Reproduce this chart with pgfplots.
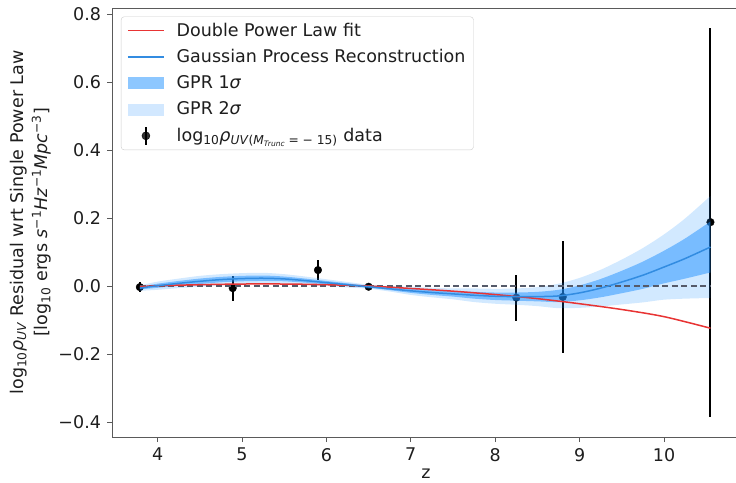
\documentclass[border=0pt]{standalone}
\usepackage{pgfplots}
\pgfplotsset{compat=1.18}
\usepackage{pgfplotstable}
\usepgfplotslibrary{fillbetween}
\usepackage{fontspec}
\setmainfont{DejaVu Sans}
\definecolor{dplred}{RGB}{232,52,52}
\definecolor{gprblue}{RGB}{50,140,225}
\definecolor{bandblue}{RGB}{30,144,255}
\definecolor{zeroline}{RGB}{85,90,105}
\definecolor{spine}{RGB}{90,90,90}
\definecolor{txt}{RGB}{30,30,30}

\pgfplotstableread{
z      m       l1      u1      l2      u2
3.79  -0.006  -0.010  -0.002  -0.014   0.002
4.00   0.001  -0.005   0.007  -0.011   0.013
4.25   0.008   0.001   0.015  -0.006   0.022
4.50   0.014   0.006   0.022  -0.002   0.030
4.75   0.019   0.011   0.027   0.003   0.035
5.00   0.022   0.014   0.030   0.006   0.038
5.25   0.023   0.015   0.031   0.007   0.039
5.50   0.021   0.014   0.028   0.007   0.035
5.75   0.016   0.010   0.022   0.004   0.028
6.00   0.010   0.005   0.015   0.000   0.020
6.25   0.004   0.000   0.008  -0.004   0.012
6.50  -0.002  -0.005   0.001  -0.008   0.004
6.75  -0.008  -0.012  -0.004  -0.016   0.000
7.00  -0.014  -0.020  -0.008  -0.026  -0.002
7.25  -0.019  -0.026  -0.012  -0.033  -0.005
7.50  -0.023  -0.031  -0.015  -0.039  -0.007
7.75  -0.027  -0.037  -0.017  -0.047  -0.007
8.00  -0.030  -0.041  -0.019  -0.052  -0.008
8.25  -0.031  -0.043  -0.019  -0.055  -0.007
8.50  -0.031  -0.045  -0.017  -0.059  -0.003
8.75  -0.029  -0.047  -0.011  -0.065   0.007
9.00  -0.020  -0.042   0.002  -0.064   0.024
9.25  -0.006  -0.033   0.021  -0.060   0.048
9.50   0.012  -0.021   0.045  -0.054   0.078
9.75   0.032  -0.008   0.072  -0.048   0.112
10.00  0.056   0.008   0.104  -0.040   0.152
10.25  0.081   0.022   0.140  -0.037   0.199
10.55  0.115   0.040   0.190  -0.035   0.265
}\gpr

\pgfplotstableread{
z      y       e
3.79  -0.003   0.015
4.89  -0.006   0.037
5.90   0.047   0.030
6.50  -0.002   0.006
8.25  -0.034   0.068
8.80  -0.032   0.166
10.55  0.188   0.572
}\obs

\pgfplotsset{
  redleg/.style={legend image code/.code={\draw[dplred, line width=1.5pt] (0pt,0pt) -- (36pt,0pt);}},
  blueleg/.style={legend image code/.code={\draw[gprblue, line width=1.5pt] (0pt,0pt) -- (36pt,0pt);}},
  onesigleg/.style={legend image code/.code={\path[draw=none, fill=bandblue, fill opacity=0.5, sharp corners] (0pt,-6pt) rectangle (36pt,6pt);}},
  twosigleg/.style={legend image code/.code={\path[draw=none, fill=bandblue, fill opacity=0.2, sharp corners] (0pt,-6pt) rectangle (36pt,6pt);}},
  errleg/.style={legend image code/.code={\draw[black, line width=2pt, sharp corners] (18pt,-9pt) -- (18pt,9pt); \fill[black] (18pt,0pt) circle (4pt);}},
}

\begin{document}
\fontsize{17.5}{21}\selectfont
\color{txt}
\begin{tikzpicture}
\begin{axis}[
  set layers=standard, clip mode=individual,
  at={(112pt,45pt)}, anchor=south west,
  scale only axis, width=628pt, height=429pt,
  xmin=3.46, xmax=10.9, ymin=-0.444, ymax=0.818,
  xtick={4,5,6,7,8,9,10}, xticklabels={4,5,6,7,8,9,10},
  ytick={-0.4,-0.2,0,0.2,0.4,0.6,0.8},
  yticklabels={−0.4,−0.2,0.0,0.2,0.4,0.6,0.8},
  xtick pos=bottom, ytick pos=left,
  tick align=outside, major tick length=5pt,
  tick style={spine, line width=0.8pt},
  axis line style={spine, line width=0.8pt},
  xlabel={z},
  xlabel style={at={(axis description cs:0.5,-0.085)}, anchor=center},
  ylabel={log\textsubscript{10}\textit{ρ}\textsubscript{\textit{UV}} Residual wrt Single Power Law\\[3pt]{[}log\textsubscript{10} ergs \textit{s}\textsuperscript{−1}\textit{Hz}\textsuperscript{−1}\textit{Mpc}\textsuperscript{−3}]},
  ylabel style={at={(axis description cs:-0.13,0.5)}, anchor=center, align=center},
  legend style={at={(0.0143,0.98)}, anchor=north west, draw=black!20, rounded corners=3pt,
    fill=white, fill opacity=0.8, text opacity=1, inner xsep=6pt, inner ysep=4pt,
    row sep=6.5pt, cells={anchor=west},
    /tikz/every odd column/.append style={column sep=10pt}},
  legend cell align=left,
]
% data with error bars (under the bands)
\addplot[forget plot, on layer=axis background, mark layer=axis background,
  only marks, mark=*, mark size=3.8pt, black,
  error bars/.cd, y dir=both, y explicit, error mark=none,
  error bar style={line width=2pt, black}]
  table[x=z, y=y, y error=e]{\obs};
% bands
\addplot[forget plot, name path=u2, draw=none, smooth] table[x=z, y=u2]{\gpr};
\addplot[forget plot, name path=l2, draw=none, smooth] table[x=z, y=l2]{\gpr};
\addplot[forget plot, name path=u1, draw=none, smooth] table[x=z, y=u1]{\gpr};
\addplot[forget plot, name path=l1, draw=none, smooth] table[x=z, y=l1]{\gpr};
\addplot[forget plot, fill=bandblue, fill opacity=0.2, draw=none] fill between[of=u2 and l2];
\addplot[forget plot, fill=bandblue, fill opacity=0.5, draw=none] fill between[of=u1 and l1];
% zero line
\addplot[forget plot, zeroline, dash pattern=on 6pt off 3.5pt, line width=1.2pt]
  coordinates {(3.79,0) (10.55,0)};
% double power law fit
\addplot[forget plot, dplred, line width=1.5pt, smooth] coordinates {
(3.79,-0.002) (4.0,0.001) (4.5,0.004) (5.0,0.006) (5.5,0.006) (6.0,0.004)
(6.5,0.000) (7.0,-0.007) (7.5,-0.015) (8.0,-0.025) (8.5,-0.037) (9.0,-0.052)
(9.5,-0.069) (10.0,-0.090) (10.55,-0.124)};
% GPR mean
\addplot[forget plot, gprblue, line width=1.5pt, smooth] table[x=z, y=m]{\gpr};
% legend
\addlegendimage{redleg}
\addlegendentry{Double Power Law fit}
\addlegendimage{blueleg}
\addlegendentry{Gaussian Process Reconstruction}
\addlegendimage{onesigleg}
\addlegendentry{GPR 1\textit{σ}}
\addlegendimage{twosigleg}
\addlegendentry{GPR 2\textit{σ}}
\addlegendimage{errleg}
\addlegendentry{log\textsubscript{10}\textit{ρ}\textsubscript{\textit{UV}(\textit{M}\raisebox{-0.25ex}{\fontsize{7.5}{8}\selectfont\textit{Trunc}} = − 15)} data}
\end{axis}
\pgfresetboundingbox
\path (0pt,0pt) rectangle (736pt,482pt);
\end{tikzpicture}
\end{document}
